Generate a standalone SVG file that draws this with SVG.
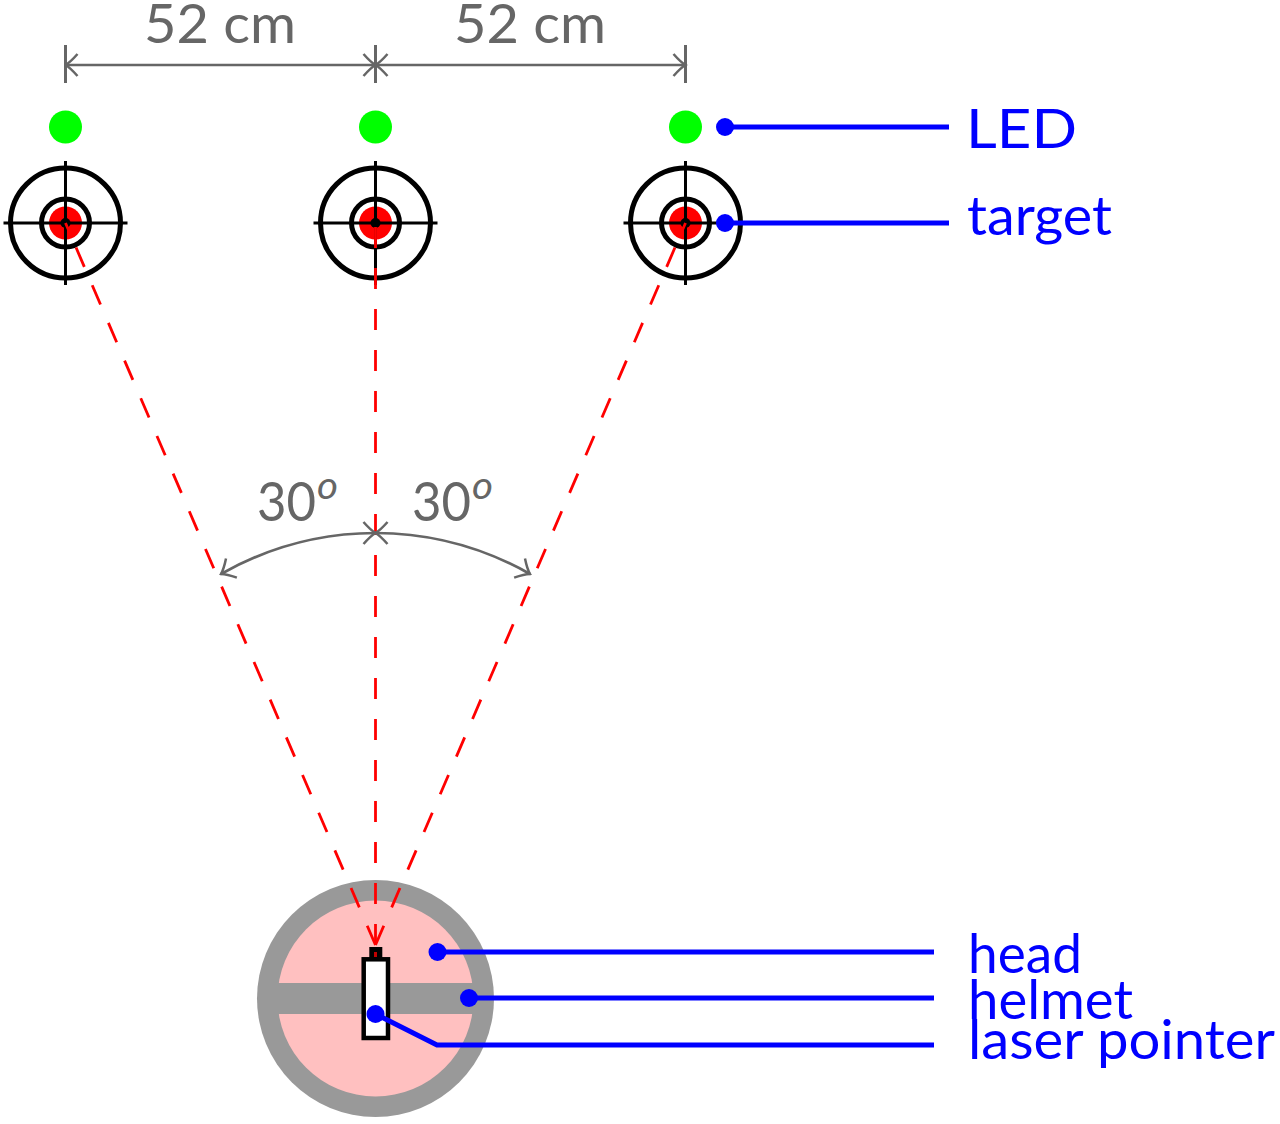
<svg xmlns="http://www.w3.org/2000/svg" width="1280" height="1124" viewBox="0 0 1280 1124">
<style>
text{font-family:"Lato","Open Sans","Liberation Sans",sans-serif;font-size:55px}
.g{fill:#666}
.b{fill:#0000ff}
.dim{fill:none;stroke:#666;stroke-width:2.7}
.tick{fill:none;stroke:#666;stroke-width:3}
.ray{fill:none;stroke:#ff0000;stroke-width:2.8;stroke-dasharray:21 20}
.lead{fill:none;stroke:#0000ff;stroke-width:5;stroke-linejoin:round}
.dot{fill:#0000ff}
.led{fill:#00ff00}
.ring{fill:none;stroke:#000;stroke-width:5}
.hair{fill:none;stroke:#000;stroke-width:3}
</style>
<defs>
<marker id="a" markerUnits="userSpaceOnUse" viewBox="-14 -13 16 26" refX="0" refY="0" markerWidth="16" markerHeight="26" orient="auto-start-reverse">
<path d="M-12,-11 Q-5,-3 0,0 Q-5,3 -12,11" fill="none" stroke="#666" stroke-width="2.5"/>
</marker>
<g id="t">
<circle r="16.500" fill="#ff0000"/>
<circle r="24" class="ring"/>
<circle r="55" class="ring"/>
<path d="M-62,0H62M0,-62V62" class="hair"/>
<circle r="5" fill="#000"/>
</g>
</defs>
<g id="led-1"><circle cx="65.500" cy="127" r="16.500" class="led"/></g>
<g id="led-2"><circle cx="375.500" cy="127" r="16.500" class="led"/></g>
<g id="led-3"><circle cx="685.500" cy="127" r="16.500" class="led"/></g>
<g id="target-1"><use href="#t" x="65.500" y="223"/></g>
<g id="target-2"><use href="#t" x="375.500" y="223"/></g>
<g id="target-3"><use href="#t" x="685.500" y="223"/></g>
<g id="head">
<circle cx="375.500" cy="998.500" r="118.500" fill="#999"/>
<circle cx="375.500" cy="998.500" r="98" fill="#ffc0c0"/>
<rect x="270" y="983" width="211" height="31" fill="#999"/>
</g>
<g id="connectors">
<path d="M375.500,945L65.500,223" class="ray"/>
<path d="M375.500,945V223" class="ray"/>
<path d="M375.500,945L685.500,223" class="ray"/>
<path d="M65.500,45V83M375.500,45V83M685.500,45V83" class="tick"/>
<path d="M65.500,65H375.500" class="dim" marker-start="url(#a)" marker-end="url(#a)"/>
<path d="M375.500,65H685.500" class="dim" marker-start="url(#a)" marker-end="url(#a)"/>
<path d="M221,574A315,315 0 0 1 375.500,533" class="dim" marker-start="url(#a)" marker-end="url(#a)"/>
<path d="M530,574A315,315 0 0 0 375.500,533" class="dim" marker-start="url(#a)" marker-end="url(#a)"/>
</g>
<g id="laser-pointer">
<rect x="363.700" y="959.300" width="24.300" height="78.700" fill="#fff" stroke="#000" stroke-width="4.500"/>
<rect x="369.300" y="947" width="13" height="12" fill="#000"/>
<rect x="374" y="952" width="3" height="5" fill="#c00000"/>
</g>
<g id="leaders">
<circle cx="725" cy="127" r="9" class="dot"/><path d="M725,127H949" class="lead"/>
<circle cx="725" cy="223" r="9" class="dot"/><path d="M725,223H949" class="lead"/>
<circle cx="437.500" cy="952" r="9" class="dot"/><path d="M437.500,952H934" class="lead"/>
<circle cx="469" cy="998" r="9" class="dot"/><path d="M469,998H934" class="lead"/>
<circle cx="375.500" cy="1014" r="9" class="dot"/><path d="M375.500,1014L437,1045H934" class="lead"/>
</g>
<g id="labels">
<text x="144" y="43" class="g" textLength="152" lengthAdjust="spacingAndGlyphs">52 cm</text>
<text x="454" y="43" class="g" textLength="152" lengthAdjust="spacingAndGlyphs">52 cm</text>
<text x="257" y="521" class="g" textLength="59" lengthAdjust="spacingAndGlyphs">30</text>
<text x="317" y="499" class="g" style="font-size:38px;font-style:italic" textLength="21" lengthAdjust="spacingAndGlyphs">o</text>
<text x="412" y="521" class="g" textLength="59" lengthAdjust="spacingAndGlyphs">30</text>
<text x="472" y="499" class="g" style="font-size:38px;font-style:italic" textLength="21" lengthAdjust="spacingAndGlyphs">o</text>
<text x="966" y="148" class="b" textLength="111" lengthAdjust="spacingAndGlyphs">LED</text>
<text x="967" y="235" class="b" textLength="145" lengthAdjust="spacingAndGlyphs">target</text>
<text x="968" y="973" class="b" textLength="114" lengthAdjust="spacingAndGlyphs">head</text>
<text x="968" y="1019" class="b" textLength="165" lengthAdjust="spacingAndGlyphs">helmet</text>
<text x="968" y="1059" class="b" textLength="307" lengthAdjust="spacingAndGlyphs">laser pointer</text>
</g>
</svg>
